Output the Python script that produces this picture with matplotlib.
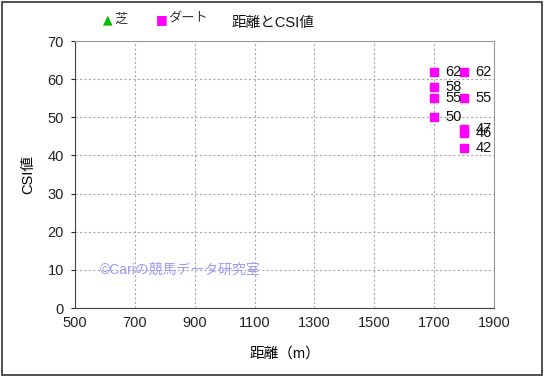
import matplotlib
matplotlib.use("Agg")
import matplotlib.pyplot as plt
from matplotlib.patches import Rectangle

plt.rcParams['font.family'] = ['Liberation Sans', 'Noto Sans CJK JP', 'DejaVu Sans']

# 芝 (turf) has no points in this chart
turf_dist = []
turf_csi = []
# ダート (dirt)
dirt_dist = [1700, 1700, 1700, 1700, 1800, 1800, 1800, 1800, 1800]
dirt_csi = [62, 58, 55, 50, 62, 55, 47, 46, 42]

xticks = [500, 700, 900, 1100, 1300, 1500, 1700, 1900]
yticks = [0, 10, 20, 30, 40, 50, 60, 70]

fig = plt.figure(figsize=(5.45, 3.77), dpi=100)
ax = fig.add_axes([0.1376, 0.183, 0.769, 0.708])

ax.scatter(turf_dist, turf_csi, marker='^', s=40, color='#00cc00', zorder=3)
ax.scatter(dirt_dist, dirt_csi, marker='s', s=32, color='#ff00ff', zorder=3)
for x, y in zip(dirt_dist, dirt_csi):
    ax.annotate(str(y), (x, y), xytext=(8, 0), textcoords='offset points',
                va='center', ha='left', fontsize=10.5, color='#111111')

ax.set_xlim(500, 1900)
ax.set_ylim(0, 70)
ax.set_xticks(xticks)
ax.set_yticks(yticks)
ax.tick_params(axis='y', labelsize=10.5, length=3, direction='out', pad=5, colors='#222222')
ax.tick_params(axis='x', labelsize=10.5, length=0, pad=6, colors='#222222')
ax.grid(True, linestyle=(0, (2, 2)), color='#aaaaaa', linewidth=0.8)
ax.set_axisbelow(True)
for s in ['top', 'right']:
    ax.spines[s].set_color('#999999')
for s in ['left', 'bottom']:
    ax.spines[s].set_color('#444444')

ax.set_xlabel('距離（m）', fontsize=10.5, labelpad=12)
ax.set_ylabel('CSI値', fontsize=10.5, labelpad=9)

ax.text(583, 10, '©Cariの競馬データ研究室', color='#9999ff', fontsize=10,
        va='center', ha='left', zorder=1)

# legend and title along the top
fig.text(0.198, 0.948, '▲', color='#00bb00', fontsize=9, family='DejaVu Sans',
         va='center', ha='center')
fig.text(0.210, 0.947, '芝', color='#333333', fontsize=9.5, va='center', ha='left')
fig.text(0.297, 0.948, '■', color='#ff00ff', fontsize=9, family='DejaVu Sans',
         va='center', ha='center')
fig.text(0.308, 0.947, 'ダート', color='#333333', fontsize=9.5, va='center', ha='left')
fig.text(0.5, 0.938, '距離とCSI値', color='#111111', fontsize=10.5, va='center', ha='center')

fig.patches.append(Rectangle((0.003, 0.004), 0.992, 0.992, transform=fig.transFigure,
                             fill=False, edgecolor='#333333', linewidth=1.2))

fig.savefig('out.png', dpi=100)
